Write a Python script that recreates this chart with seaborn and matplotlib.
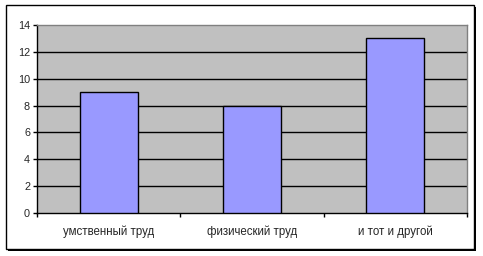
import matplotlib
matplotlib.use("Agg")
import matplotlib.pyplot as plt
import seaborn as sns
import pandas as pd
from matplotlib.patches import Rectangle

categories = ["умственный труд", "физический труд", "и тот и другой"]
values = [9, 8, 13]
yticks = [0, 2, 4, 6, 8, 10, 12, 14]

sns.set_style("white")
plt.rcParams['font.family'] = ['Liberation Sans', 'DejaVu Sans']

W, H = 483, 256
fig = plt.figure(figsize=(W / 100, H / 100), dpi=100)
fig.patch.set_facecolor("white")

# outer frame with shadow
fig.add_artist(Rectangle((8 / W, 1 - 251 / H), 468 / W, 244 / H, transform=fig.transFigure,
                         facecolor="black", edgecolor="none", zorder=0))
fig.add_artist(Rectangle((6 / W, 1 - 249 / H), 468 / W, 244 / H, transform=fig.transFigure,
                         facecolor="white", edgecolor="black", linewidth=1, zorder=1))

L, T, R, B = 37, 25, 467, 213
ax = fig.add_axes([L / W, 1 - B / H, (R - L) / W, (B - T) / H], zorder=2)
ax.set_facecolor("#C0C0C0")

df = pd.DataFrame({"cat": categories, "val": values})
sns.barplot(data=df, x="cat", y="val", ax=ax, color="#9999FF", saturation=1,
            width=0.405, edgecolor="black", linewidth=1, zorder=3)

ax.set_ylim(0, 14)
ax.set_xlim(-0.5, 2.5)
ax.set_yticks(yticks)
ax.set_yticklabels([str(v) for v in yticks], fontsize=7.8)
ax.set_xticks([0, 1, 2])
ax.set_xticklabels(categories, fontsize=8.3)
ax.set_xlabel("")
ax.set_ylabel("")

for y in yticks[1:-1]:
    ax.axhline(y, color="black", linewidth=1, zorder=1)

ax.tick_params(axis="y", direction="out", length=3, width=1, color="black", pad=2, left=True)
ax.tick_params(axis="x", length=0, pad=9)
# x ticks at category boundaries
ax.set_xticks([-0.5, 0.5, 1.5, 2.5], minor=True)
ax.tick_params(axis="x", which="minor", direction="out", length=3, width=1, color="black", bottom=True)

for s in ["left", "bottom"]:
    ax.spines[s].set_color("black")
    ax.spines[s].set_linewidth(1)
for s in ["top", "right"]:
    ax.spines[s].set_color("#808080")
    ax.spines[s].set_linewidth(1)
    ax.spines[s].set_visible(True)

fig.savefig("out.png", dpi=100)
